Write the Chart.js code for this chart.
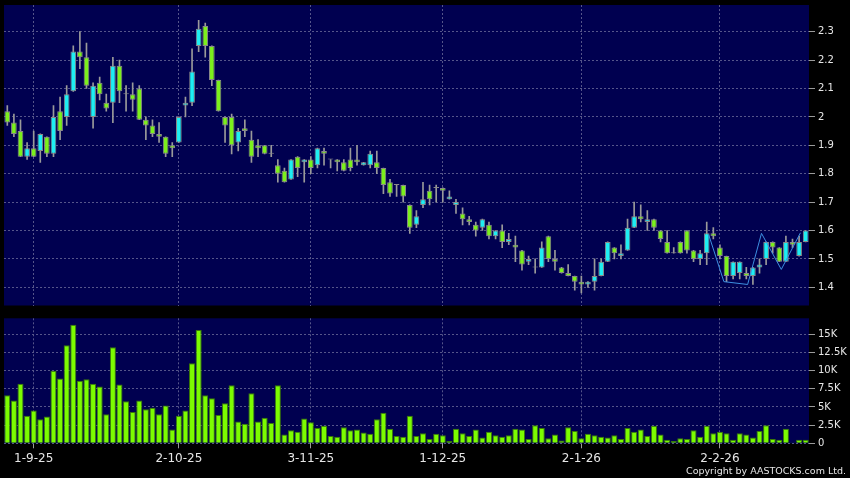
<!DOCTYPE html>
<html>
<head>
<meta charset="utf-8">
<script src="https://cdn.jsdelivr.net/npm/chart.js@4.4.1/dist/chart.umd.min.js"></script>
<style>
  html, body { margin: 0; padding: 0; background: #000; }
  #wrap { position: relative; width: 850px; height: 478px; overflow: hidden; background: #000; }
  #price { position: absolute; left: 0; top: 0; }
  #vol { position: absolute; left: 0; top: 310px; }
  #copy {
    position: absolute; right: 4px; top: 465px; z-index: 2;
    font: 9.5px 'DejaVu Sans', sans-serif; color: #e6e6e6; white-space: nowrap;
  }
</style>
</head>
<body>
<div id="wrap">
  <canvas id="price" width="850" height="310"></canvas>
  <canvas id="vol" width="850" height="168"></canvas>
  <div id="copy">Copyright by AASTOCKS.com Ltd.</div>
</div>
<script>
// daily candles, 26-8-25 .. 24-2-26 (index = trading day)
var openP = [
  2.02, 1.98, 1.95, 1.86, 1.89, 1.88, 1.93, 1.87, 2.02, 2.00,
  2.09, 2.23, 2.21, 2.00, 2.12, 2.05, 2.05, 2.18, 2.08, 2.08,
  2.10, 1.99, 1.97, 1.94, 1.93, 1.90, 1.91, 2.04, 2.05, 2.25,
  2.32, 2.25, 2.13, 2.00, 2.00, 1.91, 1.96, 1.92, 1.90, 1.90,
  1.87, 1.83, 1.81, 1.78, 1.86, 1.84, 1.85, 1.83, 1.88, 1.85,
  1.85, 1.84, 1.85, 1.85, 1.83, 1.83, 1.84, 1.82, 1.77, 1.76,
  1.76, 1.69, 1.62, 1.69, 1.74, 1.75, 1.75, 1.71, 1.69, 1.66,
  1.64, 1.62, 1.61, 1.62, 1.58, 1.60, 1.56, 1.55, 1.53, 1.49,
  1.47, 1.47, 1.58, 1.50, 1.47, 1.45, 1.44, 1.42, 1.41, 1.42,
  1.44, 1.49, 1.54, 1.51, 1.53, 1.61, 1.65, 1.63, 1.64, 1.60,
  1.56, 1.52, 1.56, 1.60, 1.53, 1.50, 1.52, 1.59, 1.54, 1.51,
  1.44, 1.45, 1.45, 1.44, 1.47, 1.50, 1.56, 1.54, 1.49, 1.56,
  1.51, 1.56
];
var highP = [
  2.04, 2.01, 1.99, 1.91, 1.95, 1.94, 1.93, 2.04, 2.07, 2.11,
  2.25, 2.30, 2.26, 2.12, 2.14, 2.08, 2.21, 2.20, 2.11, 2.12,
  2.11, 2.00, 1.99, 1.98, 1.93, 1.91, 2.00, 2.07, 2.24, 2.34,
  2.33, 2.25, 2.13, 2.00, 2.01, 1.96, 1.99, 1.95, 1.92, 1.90,
  1.90, 1.85, 1.82, 1.85, 1.86, 1.85, 1.86, 1.89, 1.89, 1.85,
  1.85, 1.85, 1.89, 1.90, 1.84, 1.88, 1.88, 1.82, 1.78, 1.76,
  1.76, 1.69, 1.67, 1.77, 1.76, 1.76, 1.75, 1.74, 1.71, 1.68,
  1.65, 1.63, 1.64, 1.63, 1.60, 1.62, 1.59, 1.58, 1.53, 1.51,
  1.50, 1.56, 1.58, 1.53, 1.47, 1.48, 1.44, 1.44, 1.42, 1.50,
  1.50, 1.56, 1.54, 1.55, 1.64, 1.70, 1.69, 1.67, 1.64, 1.60,
  1.60, 1.54, 1.56, 1.60, 1.53, 1.53, 1.63, 1.61, 1.55, 1.51,
  1.49, 1.49, 1.47, 1.47, 1.50, 1.56, 1.56, 1.54, 1.58, 1.57,
  1.58, 1.60
];
var lowP = [
  1.97, 1.93, 1.86, 1.85, 1.86, 1.84, 1.86, 1.86, 1.92, 1.97,
  2.09, 2.17, 2.10, 1.96, 2.06, 2.02, 1.98, 2.05, 2.02, 2.02,
  1.99, 1.92, 1.93, 1.91, 1.86, 1.86, 1.91, 2.00, 2.04, 2.23,
  2.21, 2.11, 2.02, 1.91, 1.87, 1.88, 1.93, 1.84, 1.86, 1.87,
  1.86, 1.77, 1.77, 1.78, 1.79, 1.77, 1.80, 1.82, 1.83, 1.82,
  1.81, 1.81, 1.81, 1.83, 1.83, 1.82, 1.80, 1.73, 1.72, 1.72,
  1.70, 1.59, 1.61, 1.68, 1.69, 1.70, 1.70, 1.71, 1.66, 1.62,
  1.62, 1.58, 1.60, 1.57, 1.57, 1.54, 1.55, 1.49, 1.46, 1.48,
  1.45, 1.47, 1.49, 1.46, 1.45, 1.44, 1.39, 1.38, 1.40, 1.39,
  1.44, 1.49, 1.50, 1.50, 1.53, 1.61, 1.63, 1.60, 1.60, 1.56,
  1.52, 1.52, 1.52, 1.52, 1.49, 1.48, 1.48, 1.57, 1.50, 1.42,
  1.43, 1.43, 1.43, 1.41, 1.45, 1.48, 1.52, 1.49, 1.49, 1.54,
  1.51, 1.56
];
var closeP = [
  1.98, 1.94, 1.86, 1.89, 1.86, 1.94, 1.87, 2.00, 1.95, 2.08,
  2.23, 2.21, 2.11, 2.11, 2.08, 2.03, 2.18, 2.09, 2.08, 2.06,
  1.99, 1.97, 1.94, 1.93, 1.87, 1.89, 2.00, 2.05, 2.16, 2.31,
  2.25, 2.13, 2.02, 1.97, 1.90, 1.95, 1.95, 1.86, 1.89, 1.87,
  1.87, 1.80, 1.77, 1.85, 1.82, 1.85, 1.82, 1.89, 1.87, 1.85,
  1.84, 1.81, 1.82, 1.84, 1.84, 1.87, 1.82, 1.76, 1.73, 1.76,
  1.72, 1.61, 1.65, 1.71, 1.71, 1.75, 1.74, 1.72, 1.70, 1.64,
  1.63, 1.60, 1.64, 1.58, 1.60, 1.56, 1.57, 1.54, 1.48, 1.50,
  1.47, 1.54, 1.50, 1.49, 1.45, 1.44, 1.42, 1.41, 1.42, 1.44,
  1.49, 1.56, 1.52, 1.52, 1.61, 1.65, 1.64, 1.64, 1.61, 1.57,
  1.52, 1.52, 1.52, 1.53, 1.50, 1.52, 1.59, 1.58, 1.51, 1.44,
  1.49, 1.49, 1.44, 1.47, 1.48, 1.56, 1.54, 1.49, 1.56, 1.55,
  1.56, 1.60
];
// volume, thousands of shares
var volK = [
  6.6, 5.9, 8.2, 3.8, 4.5, 3.3, 3.7, 10.0, 8.9, 13.5,
  16.3, 8.6, 8.8, 8.2, 7.8, 4.0, 13.2, 8.1, 5.8, 4.3,
  5.9, 4.7, 4.9, 4.0, 5.2, 1.9, 3.8, 4.5, 11.0, 15.6,
  6.6, 6.2, 3.9, 5.5, 8.0, 3.0, 2.7, 6.9, 3.0, 3.5,
  2.8, 8.0, 1.2, 1.8, 1.6, 3.4, 2.9, 2.1, 2.4, 1.0,
  0.9, 2.2, 1.8, 1.9, 1.5, 1.3, 3.3, 4.2, 2.0, 1.0,
  0.9, 3.8, 1.0, 1.4, 0.6, 1.3, 1.1, 0.3, 2.0, 1.4,
  1.0, 1.9, 0.8, 1.6, 1.1, 0.9, 1.1, 2.0, 1.9, 0.6,
  2.5, 2.1, 0.7, 1.2, 0.4, 2.2, 1.7, 0.7, 1.3, 1.1,
  0.9, 0.8, 1.1, 0.6, 2.1, 1.6, 1.9, 1.0, 2.4, 1.2,
  0.5, 0.3, 0.7, 0.6, 1.8, 0.9, 2.4, 1.4, 1.6, 1.4,
  0.5, 1.4, 1.2, 0.8, 1.7, 2.5, 0.6, 0.5, 2.0, 0.1,
  0.5, 0.5
];
// drawn pattern line (day index, price)
var patternX = [106.3, 108.6, 112.2, 114.3, 117.3, 120.2];
var patternY = [1.585, 1.42, 1.41, 1.59, 1.463, 1.592];

var tickIdx = [4, 26, 46, 66, 87, 108];
var tickText = ['1-9-25', '2-10-25', '3-11-25', '1-12-25', '2-1-26', '2-2-26'];

var NAVY = '#000050';
var GRID = '#55558a';
var TXT = '#e6e6e6';
var GREEN = '#7cf01c';
var CYAN = '#1eeef2';
var EDGE = '#8a8a8a';
var XMIN = -0.5, XMAX = openP.length - 0.5;

Chart.defaults.font.family = "'DejaVu Sans', sans-serif";
Chart.defaults.font.size = 10;
Chart.defaults.color = TXT;

var panelBg = {
  id: 'panelBg',
  beforeDraw: function (chart) {
    var a = chart.chartArea, ctx = chart.ctx;
    ctx.save();
    ctx.fillStyle = NAVY;
    ctx.fillRect(a.left, a.top, a.right - a.left, a.bottom - a.top);
    ctx.restore();
  }
};

function setTicks(scale) {
  scale.ticks = tickIdx.map(function (v) { return { value: v }; });
}

// keep label overhang from shrinking the plot area
function noPad(s) {
  s.paddingTop = 0; s.paddingBottom = 0; s.paddingLeft = 0; s.paddingRight = 0;
}

var bodyData = openP.map(function (o, i) { return { x: i, y: [o, closeP[i]] }; });
var wickData = lowP.map(function (l, i) { return { x: i, y: [l, highP[i]] }; });
var bodyColor = openP.map(function (o, i) {
  if (closeP[i] > o) return CYAN;
  if (closeP[i] < o) return GREEN;
  return EDGE;
});
var patternData = patternX.map(function (x, i) { return { x: x, y: patternY[i] }; });

new Chart(document.getElementById('price'), {
  type: 'bar',
  data: {
    datasets: [{
      type: 'line',
      data: patternData,
      borderColor: '#3d8fe0',
      borderWidth: 1,
      pointRadius: 0,
      tension: 0,
      order: 0
    }, {
      data: bodyData,
      backgroundColor: bodyColor,
      borderColor: EDGE,
      borderWidth: 1,
      borderSkipped: false,
      minBarLength: 1,
      grouped: false,
      barPercentage: 0.86,
      categoryPercentage: 1,
      order: 1
    }, {
      data: wickData,
      backgroundColor: '#9a9a9a',
      borderWidth: 0,
      barThickness: 1,
      grouped: false,
      order: 2
    }]
  },
  options: {
    responsive: false,
    animation: false,
    layout: { padding: { left: 4, top: 5, right: 0, bottom: 4.5 } },
    plugins: { legend: { display: false }, tooltip: { enabled: false } },
    scales: {
      x: {
        type: 'linear', min: XMIN, max: XMAX, offset: false,
        afterBuildTicks: setTicks,
        afterFit: function (s) { s.height = 0; noPad(s); },
        ticks: { display: false },
        grid: { color: GRID, offset: false, drawTicks: false },
        border: { display: false, dash: [2, 2] }
      },
      y: {
        position: 'right', min: 1.336, max: 2.394,
        afterFit: function (s) { s.width = 41; noPad(s); },
        ticks: {
          stepSize: 0.1, includeBounds: false, padding: 3, color: TXT,
          callback: function (v) { return String(Number(v.toFixed(1))); }
        },
        grid: { color: GRID, tickColor: '#9a9a9a', tickLength: 6 },
        border: { display: false, dash: [2, 2] }
      }
    }
  },
  plugins: [panelBg]
});

new Chart(document.getElementById('vol'), {
  type: 'bar',
  data: {
    datasets: [{
      data: volK.map(function (v, i) { return { x: i, y: v }; }),
      backgroundColor: '#7cfc00',
      borderColor: '#3a7a08',
      borderWidth: 1,
      barPercentage: 0.92,
      categoryPercentage: 1
    }]
  },
  options: {
    responsive: false,
    animation: false,
    layout: { padding: { left: 4, top: 8.3, right: 0, bottom: 0 } },
    plugins: { legend: { display: false }, tooltip: { enabled: false } },
    scales: {
      x: {
        type: 'linear', min: XMIN, max: XMAX, offset: false,
        afterBuildTicks: setTicks,
        afterFit: function (s) { s.height = 34.7; noPad(s); },
        ticks: {
          autoSkip: false, maxRotation: 0, padding: 3, color: TXT,
          font: { size: 12 },
          callback: function (v) { return tickText[tickIdx.indexOf(v)]; }
        },
        grid: { color: GRID, offset: false, tickColor: '#9a9a9a', tickLength: 5 },
        border: { display: false, dash: [2, 2] }
      },
      y: {
        position: 'right', min: 0, max: 17.2,
        afterFit: function (s) { s.width = 41; noPad(s); },
        ticks: {
          stepSize: 2.5, includeBounds: false, padding: 3, color: TXT,
          callback: function (v) { return v === 0 ? '0' : v + 'K'; }
        },
        grid: { color: GRID, tickColor: '#9a9a9a', tickLength: 6 },
        border: { display: false, dash: [2, 2] }
      }
    }
  },
  plugins: [panelBg]
});
</script>
</body>
</html>
